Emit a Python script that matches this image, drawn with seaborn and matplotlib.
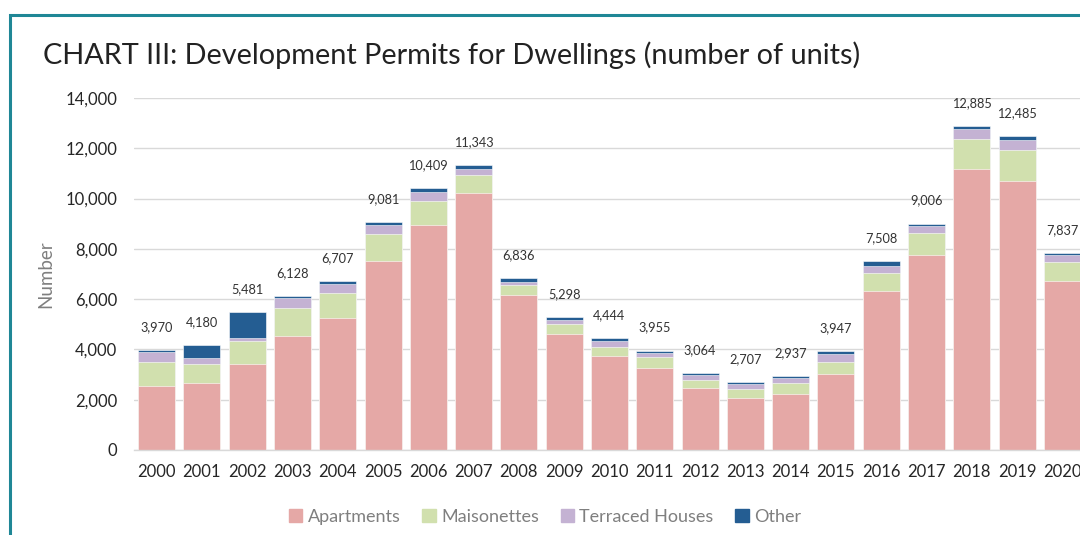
import matplotlib
matplotlib.use("Agg")
import matplotlib.pyplot as plt
import matplotlib.patches as mpatches
import seaborn as sns
import numpy as np
import pandas as pd

years = [str(y) for y in range(2000, 2021)]
apartments = [2560, 2650, 3420, 4550, 5260, 7530, 8950, 10240, 6180, 4610, 3740,
              3275, 2480, 2070, 2240, 3020, 6310, 7760, 11190, 10710, 6735]
maisonettes = [950, 780, 915, 1085, 985, 1060, 955, 700, 370, 410, 370,
               410, 320, 355, 410, 480, 715, 860, 1180, 1235, 745]
terraced = [375, 215, 120, 410, 355, 360, 370, 250, 145, 160, 225,
            170, 175, 200, 200, 330, 280, 290, 400, 400, 290]
other = [85, 535, 1026, 83, 107, 131, 134, 153, 141, 118, 109,
         100, 89, 82, 87, 117, 203, 96, 115, 140, 67]
series_names = ["Apartments", "Maisonettes", "Terraced Houses", "Other"]
colors = ["#E5A8A6", "#D1E0AE", "#C4B2D3", "#245D92"]

sns.set_theme(style="white")
plt.rcParams['font.family'] = ['Lato', 'DejaVu Sans']

fig = plt.figure(figsize=(10.8, 5.35), dpi=100)
ax = fig.add_axes([134/1080, 1-450/535, (1085-134)/1080, (450-98)/535])

df = pd.DataFrame({"year": years, "Apartments": apartments, "Maisonettes": maisonettes,
                   "Terraced Houses": terraced, "Other": other})
cum = df[series_names].cumsum(axis=1)
totals = cum["Other"].values

# draw from the tallest cumulative stack down
for name, col in reversed(list(zip(series_names, colors))):
    sns.barplot(x=df["year"], y=cum[name], color=col, width=0.82, saturation=1,
                order=years, ax=ax, edgecolor="white", linewidth=0.4)

ax.set_ylim(0, 14000)
ax.set_xlim(-0.5, len(years) - 0.5)
ax.set_yticks(np.arange(0, 14001, 2000))
ax.set_yticklabels([f"{v:,}" for v in range(0, 14001, 2000)], fontsize=12, color="#262626")
ax.tick_params(axis="x", labelsize=12, colors="#262626", length=0, pad=10)
ax.tick_params(axis="y", length=0, pad=12)
ax.yaxis.grid(True, color="#D9D9D9", linewidth=1)
ax.set_axisbelow(True)
for s in ["top", "right", "left"]:
    ax.spines[s].set_visible(False)
ax.spines["bottom"].set_color("#D9D9D9")
ax.spines["bottom"].set_linewidth(1)
ax.set_xlabel("")
ax.set_ylabel("Number", fontsize=13.5, color="#7F7F7F", labelpad=8)

for i, t in enumerate(totals):
    ax.annotate(f"{t:,}", (i, t), xytext=(0, 16.5), textcoords="offset points",
                ha="center", va="center", fontsize=9.2, color="#333333")

fig.text(43/1080, 1-55/535, "CHART III: Development Permits for Dwellings (number of units)",
         fontsize=20.8, color="#222222", va="center", ha="left")

handles = [mpatches.Patch(color=c, label=n) for n, c in zip(series_names, colors)]
leg = fig.legend(handles=handles, loc="center", bbox_to_anchor=(545/1080, 1-517/535),
                 ncol=4, frameon=False, fontsize=13, handlelength=0.75, handleheight=0.75,
                 handletextpad=0.3, columnspacing=1.2)
for t in leg.get_texts():
    t.set_color("#7F7F7F")

border = mpatches.Rectangle((9.5/1080, -0.1), 1.2, 1 - 14.5/535 + 0.1, transform=fig.transFigure,
                            fill=False, edgecolor="#1F8796", linewidth=2.2, clip_on=False)
fig.patches.append(border)

fig.savefig("out.png", dpi=100)
